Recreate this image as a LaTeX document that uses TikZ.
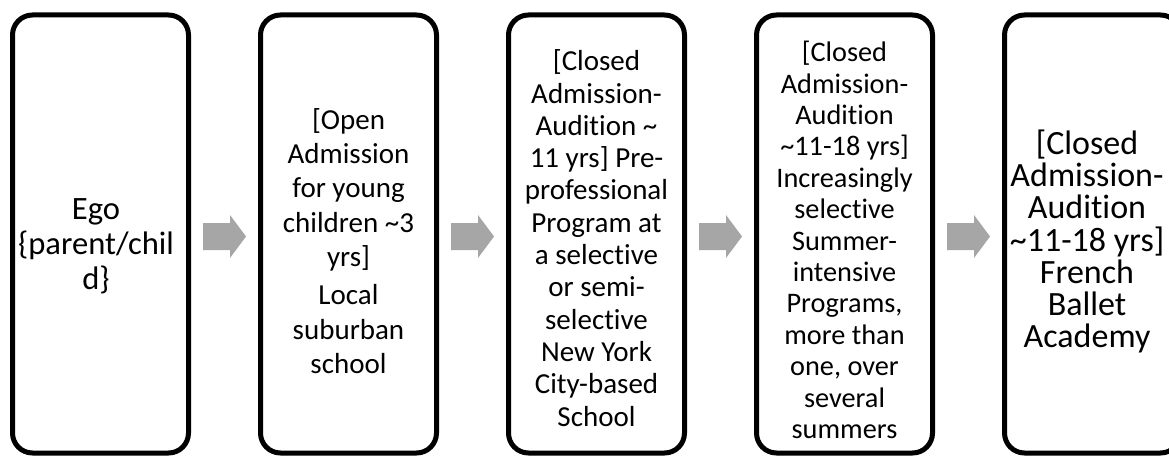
\documentclass[tikz,border=0pt]{standalone}
\usepackage{fontspec}
\setmainfont{Carlito}[Ligatures=NoCommon]
\usetikzlibrary{calc}
\definecolor{arrowgray}{HTML}{A6A6A6}
\begin{document}
\begin{tikzpicture}[x=1pt,y=1pt,
  stage/.style={draw=black, line width=5pt, rounded corners=20pt,
    minimum width=176pt, minimum height=438pt, inner sep=0pt},
  label/.style={align=center, text=black, inner sep=0pt},
  flow/.style={fill=arrowgray, draw=none}]
\useasboundingbox (0,0) rectangle (1169,456);
\clip (0,0) rectangle (1169,456);
\node[stage] (s1) at (100.5,222) {};
\node[stage] (s2) at (348.5,222) {};
\node[stage] (s3) at (596.5,222) {};
\node[stage] (s4) at (844.5,222) {};
\node[stage] (s5) at (1092.5,222) {};
\node[label, font=\fontsize{32.6}{35}\selectfont] (t1) at (96,209.5) {Ego\\\{parent/chil\\d\}};
\node[label, font=\fontsize{29}{34.3}\selectfont] (t2) at (348.5,215) {[Open\\Admission\\for young\\children \textasciitilde3\\yrs]\\[4pt]Local\\suburban\\school};
\node[label, font=\fontsize{29}{32.3}\selectfont] (t3) at (596.5,218) {[Closed\\Admission-\\Audition \textasciitilde\\11 yrs] Pre-\\professional\\Program at\\a selective\\or semi-\\selective\\New York\\City-based\\School};
\node[label, font=\fontsize{28.3}{31.4}\selectfont] (t4) at (844.5,216) {[Closed\\Admission-\\Audition\\\textasciitilde11-18 yrs]\\Increasingly\\selective\\Summer-\\intensive\\Programs,\\more than\\one, over\\several\\summers};
\node[label, font=\fontsize{34}{32.3}\selectfont] (t5) at (1087,214.5) {[Closed\\Admission-\\Audition\\\textasciitilde11-18 yrs]\\French\\Ballet\\Academy};
\foreach \a/\b in {1/2,2/3,3/4,4/5}{
  \path ($(s\a.east)!0.5!(s\b.west)$) ++(0,-2.5) coordinate (m\a);
  \fill[flow] ($(m\a)+(-21.5,-13.5)$) -- ($(m\a)+(5.5,-13.5)$) -- ($(m\a)+(5.5,-21.5)$)
    -- ($(m\a)+(21.5,0)$) -- ($(m\a)+(5.5,21.5)$) -- ($(m\a)+(5.5,13.5)$)
    -- ($(m\a)+(-21.5,13.5)$) -- cycle;
}
\end{tikzpicture}
\end{document}
